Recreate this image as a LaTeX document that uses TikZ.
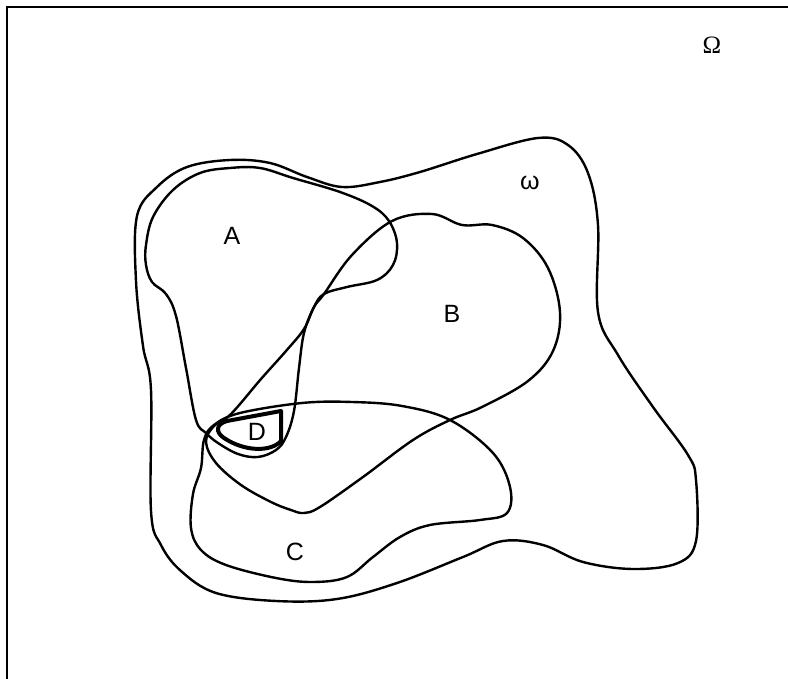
\documentclass[tikz,border=0pt]{standalone}
\usepackage{fontspec}
\setmainfont{Liberation Sans}
\newfontfamily\omegafont{Liberation Serif}
\usepackage{tikz}

\begin{document}
\begin{tikzpicture}[
    x=1pt, y=-1pt,
    frame/.style={line width=2.6pt},
    region/.style={line width=2.4pt, line join=round},
    core/.style={line width=4pt, line join=round},
    setlabel/.style={font=\fontsize{25}{30}\selectfont, inner sep=0pt}
]
    \useasboundingbox (0,0) rectangle (788,679);

    % Frame (universe)
    \draw [frame] (7,679) -- (7,7) -- (788,7);

    % omega
    \draw [region] plot [smooth cycle, tension=0.6] coordinates {
        (342,187) (380,182) (420,172) (477,154) (538,138) (568,145) (588,173)
        (598,225) (598,312) (618,355) (653,407) (688,455) (696,480) (696,541)
        (678,563) (633,569) (583,562) (543,545) (503,541) (463,557) (397,583)
        (337,599) (276,601) (216,593) (181,571) (161,545) (151,511) (151,390)
        (143,346) (136,281) (137,216) (157,187) (187,167) (230,160) (270,163)
        (307,177)};

    % A
    \draw [region] plot [smooth cycle, tension=0.6] coordinates {
        (340,192) (372,206) (389,221) (397,243) (393,265) (377,280) (347,287)
        (324,294) (314,307) (304,333) (299,368) (294,411) (286,437) (276,450)
        (258,457) (238,454) (218,443) (206,433) (196,420) (186,368) (176,316)
        (166,294) (152,282) (146,265) (146,245) (153,217) (173,190) (200,173)
        (230,168) (260,168) (293,178)};

    % B
    \draw [region] plot [smooth cycle, tension=0.6] coordinates {
        (324,294) (352,255) (392,221) (432,214) (462,225) (492,225) (523,238)
        (548,268) (560,312) (553,351) (528,381) (482,407) (450,420) (413,440)
        (363,477) (320,507) (304,513) (291,510) (271,502) (241,485) (216,463)
        (206,442) (214,426) (231,414) (261,379) (286,351) (304,329) (314,307)};

    % C
    \draw [region] plot [smooth cycle, tension=0.6] coordinates {
        (302,403) (352,402) (402,406) (450,420) (493,453) (510,487) (507,513)
        (480,520) (430,525) (400,537) (373,557) (347,577) (313,582) (276,578)
        (226,565) (201,550) (191,528) (193,494) (201,468) (204,440) (214,425)
        (240,413)};

    % D
    \draw [core] (281,411) -- (281,441)
        .. controls (271,452) and (245,452) .. (224,438)
        .. controls (215,432) and (216,424) .. (227,421) -- cycle;

    % Labels
    \node (Omega) [setlabel, font=\omegafont\fontsize{25}{30}\selectfont] at (712,45) {Ω};
    \node (omega) [setlabel] at (530,183) {ω};
    \node (A) [setlabel] at (232,236) {A};
    \node (B) [setlabel] at (452,314) {B};
    \node (C) [setlabel] at (295,552) {C};
    \node (D) [setlabel] at (257,432) {D};
\end{tikzpicture}
\end{document}
